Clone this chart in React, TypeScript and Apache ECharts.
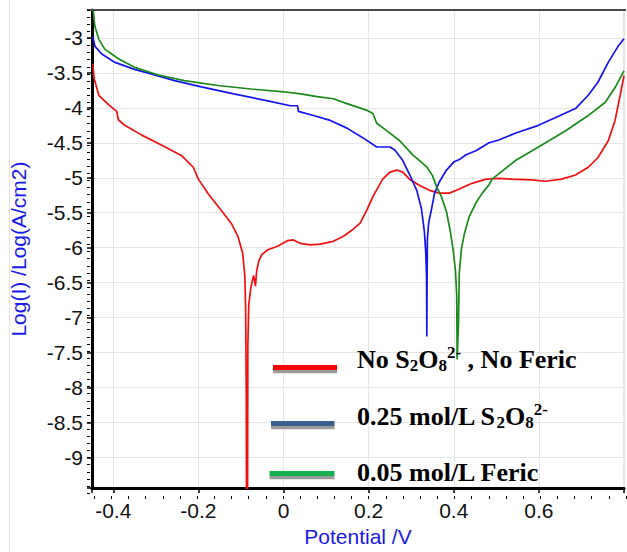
import React, { useEffect, useRef } from "react";
import * as echarts from "echarts";

// Potential (V) vs Log(I) readings
const redCurve: [number, number][] = [
  [-0.448, -3.37], [-0.445, -3.58], [-0.434, -3.82], [-0.41, -3.96], [-0.392, -4.05], [-0.388, -4.17],
  [-0.373, -4.25], [-0.333, -4.39], [-0.287, -4.53], [-0.24, -4.68], [-0.212, -4.85], [-0.2, -5.02],
  [-0.177, -5.23], [-0.147, -5.46], [-0.123, -5.65], [-0.107, -5.84], [-0.096, -6.08], [-0.091, -6.4],
  [-0.089, -6.86], [-0.0875, -8.1], [-0.087, -9.6], [-0.0845, -9.6], [-0.0838, -7.39], [-0.0827, -7.1],
  [-0.0816, -6.82], [-0.077, -6.58], [-0.072, -6.44], [-0.07, -6.4], [-0.066, -6.55], [-0.063, -6.33],
  [-0.058, -6.19], [-0.051, -6.1], [-0.037, -6.03], [-0.014, -5.98], [0.009, -5.9], [0.023, -5.89],
  [0.04, -5.94], [0.063, -5.96], [0.086, -5.95], [0.117, -5.91], [0.14, -5.84], [0.163, -5.74],
  [0.18, -5.65], [0.196, -5.46], [0.21, -5.27], [0.233, -5.02], [0.25, -4.92], [0.266, -4.89],
  [0.28, -4.92], [0.296, -5.02], [0.32, -5.11], [0.343, -5.18], [0.366, -5.22], [0.39, -5.22],
  [0.413, -5.16], [0.443, -5.08], [0.476, -5.02], [0.506, -5.01], [0.536, -5.02], [0.583, -5.03],
  [0.616, -5.05], [0.653, -5.02], [0.686, -4.96], [0.716, -4.85], [0.739, -4.71], [0.763, -4.47],
  [0.779, -4.18], [0.791, -3.82], [0.8, -3.54],
];

const blueCurve: [number, number][] = [
  [-0.448, -2.98], [-0.443, -3.12], [-0.427, -3.23], [-0.396, -3.35], [-0.35, -3.45], [-0.303, -3.53],
  [-0.256, -3.61], [-0.193, -3.7], [-0.117, -3.8], [-0.037, -3.9], [0.016, -3.97], [0.033, -3.97],
  [0.035, -4.05], [0.07, -4.11], [0.11, -4.18], [0.149, -4.29], [0.187, -4.43], [0.219, -4.56],
  [0.25, -4.56], [0.261, -4.6], [0.28, -4.75], [0.296, -4.95], [0.313, -5.18], [0.324, -5.44],
  [0.331, -5.77], [0.334, -6.05], [0.336, -6.4], [0.3367, -7.27], [0.3373, -6.5], [0.338, -5.88],
  [0.341, -5.65], [0.348, -5.44], [0.355, -5.22], [0.366, -5.06], [0.383, -4.89], [0.401, -4.77],
  [0.413, -4.74], [0.429, -4.67], [0.453, -4.61], [0.483, -4.5], [0.506, -4.46], [0.546, -4.36],
  [0.599, -4.25], [0.646, -4.12], [0.686, -4.01], [0.716, -3.82], [0.739, -3.63], [0.763, -3.35],
  [0.786, -3.12], [0.8, -3.01],
];

const greenCurve: [number, number][] = [
  [-0.449, -2.5], [-0.445, -2.74], [-0.443, -2.84], [-0.434, -3.02], [-0.42, -3.16], [-0.387, -3.3],
  [-0.35, -3.42], [-0.294, -3.53], [-0.233, -3.61], [-0.154, -3.68], [-0.077, -3.73], [0.0, -3.77],
  [0.04, -3.8], [0.079, -3.84], [0.117, -3.87], [0.149, -3.94], [0.198, -4.04], [0.21, -4.08],
  [0.219, -4.22], [0.243, -4.33], [0.273, -4.47], [0.303, -4.67], [0.336, -4.84], [0.35, -4.97],
  [0.359, -5.12], [0.371, -5.27], [0.383, -5.49], [0.392, -5.77], [0.399, -6.05], [0.404, -6.33],
  [0.407, -6.68], [0.408, -7.6], [0.411, -7.1], [0.413, -6.36], [0.418, -6.02], [0.425, -5.8],
  [0.436, -5.56], [0.453, -5.35], [0.467, -5.22], [0.483, -5.1], [0.49, -5.02], [0.546, -4.75],
  [0.599, -4.56], [0.662, -4.33], [0.716, -4.11], [0.756, -3.92], [0.779, -3.71], [0.8, -3.47],
];

const seriesNames = ["No S2O8 2- , No Feric", "0.25 mol/L S2O8 2-", "0.05 mol/L Feric"];
const seriesColors = ["#f01010", "#1515ee", "#1a8a1a"];
const legendColors = ["#ff0000", "#3b5f8e", "#13b04b"];

const X_NAME = "Potential /V";
const Y_NAME = "Log(I) /Log(A/cm2)";

const isMult = (v: number, step: number) => Math.abs(v / step - Math.round(v / step)) < 1e-6;

export default function App() {
  const ref = useRef<HTMLDivElement>(null);
  useEffect(() => {
    const chart = echarts.init(ref.current!, null, { renderer: "svg" });
    const left = 90, right = 1, top = 10, bottom = 56;
    const pxX = (627 - left - right) / (0.8 - -0.45);
    const pxY = (552 - top - bottom) / (-2.6 - -9.44);
    const g2left = left + 0.01 * pxX;
    const g2bottom = bottom + 0.04 * pxY;
    const serifFont = "'Liberation Serif', 'Times New Roman', serif";
    const sansFont = "'Liberation Sans', Arial, sans-serif";
    const rich = {
      n: { fontSize: 26, fontFamily: serifFont, fontWeight: "bold", fill: "#000", lineHeight: 30 },
      sub: { fontSize: 17, fontFamily: serifFont, fontWeight: "bold", fill: "#000", lineHeight: 18, verticalAlign: "bottom" },
      sup: { fontSize: 17, fontFamily: serifFont, fontWeight: "bold", fill: "#000", lineHeight: 18, verticalAlign: "top" },
    };
    const legendRows = [
      { y: 365, x: 273, w: 64, text: "{n|No S}{sub|2}{n|O}{sub|8}{sup|2-}{n| , No Feric}", ty: 359.2 },
      { y: 421, x: 271, w: 63.5, text: "{n|0.25 mol/L S}{sub|2}{n|O}{sub|8}{sup|2-}", ty: 416.2 },
      { y: 471, x: 269.5, w: 65, text: "{n|0.05 mol/L Feric}", ty: 472.9 },
    ];
    const graphics: any[] = [
      { type: "line", z: 1, shape: { x1: 9.5, y1: 0, x2: 9.5, y2: 552 }, style: { stroke: "#e4e4e4", lineWidth: 1 } },
      { type: "line", z: 50, shape: { x1: left, y1: top, x2: 627 - right, y2: top }, style: { stroke: "#4a4a4a", lineWidth: 2 } },
    ];
    legendRows.forEach((r, i) => {
      graphics.push({ type: "rect", z: 60, shape: { x: r.x, y: r.y + 5, width: r.w, height: 3.3 }, style: { fill: "#9a9a9a" } });
      graphics.push({ type: "rect", z: 61, shape: { x: r.x, y: r.y, width: r.w, height: 5 }, style: { fill: legendColors[i] } });
      graphics.push({
        type: "text", z: 62,
        style: { x: 357, y: r.ty, text: r.text, rich, align: "left", verticalAlign: "middle" },
      });
    });
    const option: any = {
      animation: false,
      backgroundColor: "#ffffff",
      grid: [
        { left, right, top, bottom, show: true, borderColor: "#cfcfcf", borderWidth: 1, backgroundColor: "transparent", containLabel: false },
        { left: g2left, right, top, bottom: g2bottom, containLabel: false },
      ],
      xAxis: [
        {
          type: "value", gridIndex: 0, min: -0.45, max: 0.8, splitNumber: 6,
          name: X_NAME, nameLocation: "middle", nameGap: 37,
          nameTextStyle: { color: "#1a1ae6", fontSize: 21, fontFamily: sansFont },
          axisLine: { show: true, onZero: false, lineStyle: { color: "#000", width: 3 } },
          axisTick: { show: true, length: 5, lineStyle: { color: "#000", width: 1.5 } },
          minorTick: { show: false },
          axisLabel: {
            color: "#111", fontSize: 21, fontFamily: sansFont, margin: 12,
            formatter: (v: number) => (isMult(v, 0.2) && v < 0.75 ? String(parseFloat(v.toFixed(2)) || 0) : ""),
          },
          splitLine: { show: true, lineStyle: { color: "#e6e6e6", width: 1 } },
        },
        {
          type: "value", gridIndex: 1, min: -0.44, max: 0.8, interval: 0.04, offset: 0.04 * pxY,
          axisLine: { show: false, onZero: false },
          axisTick: { show: true, length: 3, lineStyle: { color: "#000", width: 1 } },
          axisLabel: { show: false }, splitLine: { show: false },
        },
      ],
      yAxis: [
        {
          type: "value", gridIndex: 0, min: -9.44, max: -2.6, splitNumber: 12,
          name: Y_NAME, nameLocation: "middle", nameGap: 63, nameRotate: 90,
          nameTextStyle: { color: "#1a1ae6", fontSize: 21, fontFamily: sansFont },
          axisLine: { show: true, onZero: false, lineStyle: { color: "#000", width: 3 } },
          axisTick: { show: true, length: 5, lineStyle: { color: "#000", width: 1.5 } },
          axisLabel: {
            color: "#111", fontSize: 21, fontFamily: sansFont, margin: 9,
            formatter: (v: number) => (isMult(v, 0.5) ? String(parseFloat(v.toFixed(2))) : ""),
          },
          splitLine: { show: true, lineStyle: { color: "#e6e6e6", width: 1 } },
        },
        {
          type: "value", gridIndex: 1, min: -9.4, max: -2.6, interval: 0.1, offset: 0.01 * pxX,
          axisLine: { show: false, onZero: false },
          axisTick: { show: true, length: 3, lineStyle: { color: "#000", width: 1 } },
          axisLabel: { show: false }, splitLine: { show: false },
        },
      ],
      series: [redCurve, blueCurve, greenCurve].map((d, i) => ({
        name: seriesNames[i], type: "line", xAxisIndex: 0, yAxisIndex: 0, data: d,
        showSymbol: false, symbol: "none", clip: true, z: 3,
        lineStyle: { color: seriesColors[i], width: 1.7 },
      })),
      graphic: graphics,
    };
    chart.setOption(option);
    return () => chart.dispose();
  }, []);
  return (
    <div
      ref={ref}
      style={{ position: "fixed", left: 0, top: 0, width: 627, height: 552, background: "#fff" }}
    />
  );
}
